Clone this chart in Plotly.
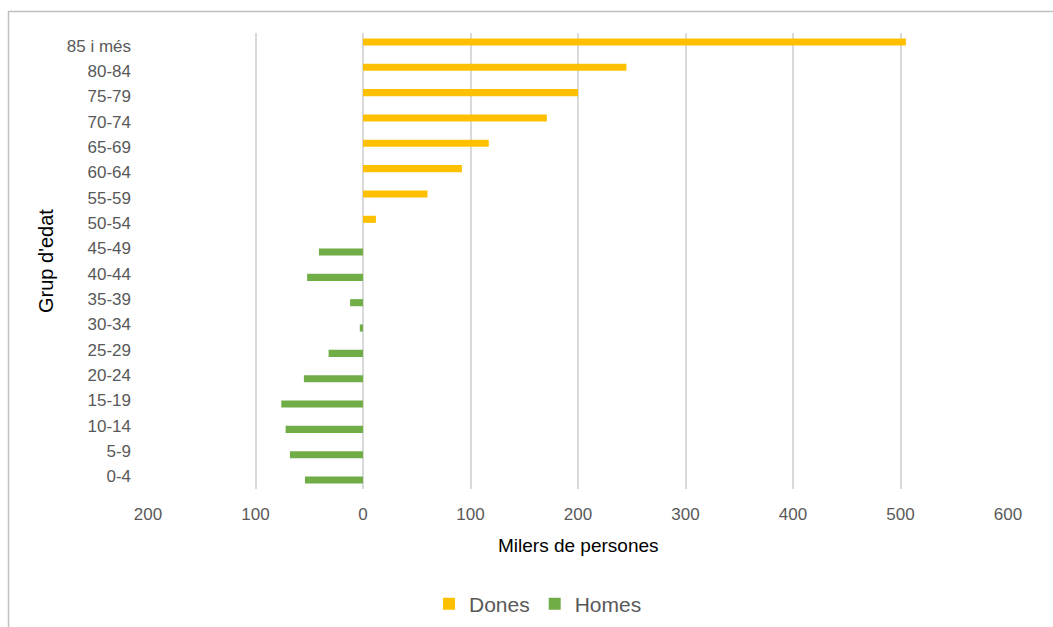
import plotly.graph_objects as go

# Age groups, bottom to top
age_groups = ["0-4", "5-9", "10-14", "15-19", "20-24", "25-29", "30-34", "35-39",
              "40-44", "45-49", "50-54", "55-59", "60-64", "65-69", "70-74",
              "75-79", "80-84", "85 i més"]

# Thousands of people (men drawn to the left as negative values)
dones = [None, None, None, None, None, None, None, None, None, None,
         12, 60, 92, 117, 171, 200, 245, 505]
homes = [-54, -68, -72, -76, -55, -32, -3, -12, -52, -41,
         None, None, None, None, None, None, None, None]

tick_vals = [-200, -100, 0, 100, 200, 300, 400, 500, 600]
tick_text = ["200", "100", "0", "100", "200", "300", "400", "500", "600"]

W, H = 1053, 627
L, R, T, B = 148, 45, 33, 138
pw, ph = W - L - R, H - T - B


def px_x(x):
    return (x - L) / pw


def px_y(y):
    return (H - B - y) / ph


FONT = "Liberation Sans, Arial, Helvetica, sans-serif"
BAR_W = 0.28

fig = go.Figure()
# Clustered layout: women's slot sits just above the category centre, men's just below
fig.add_trace(go.Bar(y=age_groups, x=dones, orientation="h", name="Dones",
                     marker=dict(color="#FFC000", line=dict(width=0)),
                     width=BAR_W, offset=0.005))
fig.add_trace(go.Bar(y=age_groups, x=homes, orientation="h", name="Homes",
                     marker=dict(color="#70AD47", line=dict(width=0)),
                     width=BAR_W, offset=-BAR_W - 0.005))

fig.update_layout(
    width=W, height=H,
    margin=dict(l=L, r=R, t=T, b=B, autoexpand=False),
    paper_bgcolor="white", plot_bgcolor="white",
    barmode="overlay",
    font=dict(family=FONT, color="#595959"),
    showlegend=True,
    legend=dict(orientation="h", x=px_x(538), y=px_y(604), xanchor="center",
                yanchor="middle", font=dict(size=21, color="#595959"),
                itemwidth=30, traceorder="normal"),
    xaxis=dict(range=[-200, 600], tickvals=tick_vals, ticktext=tick_text,
               showgrid=True, gridcolor="#d9d9d9", gridwidth=2, zeroline=False,
               showline=False, ticks="", tickfont=dict(size=17, color="#595959"),
               ticklabelstandoff=13, fixedrange=True),
    yaxis=dict(categoryorder="array", categoryarray=age_groups,
               range=[-0.5, len(age_groups) - 0.5], showgrid=False, zeroline=False,
               showline=False, ticks="", tickfont=dict(size=17, color="#595959"),
               ticklabelstandoff=16, fixedrange=True),
    annotations=[
        dict(text="Milers de persones", xref="paper", yref="paper",
             x=px_x(578), y=px_y(545), xanchor="center", yanchor="middle",
             showarrow=False, font=dict(size=19, color="#000000")),
        dict(text="Grup d'edat", xref="paper", yref="paper",
             x=px_x(46), y=px_y(261), xanchor="center", yanchor="middle",
             textangle=-90, showarrow=False, font=dict(size=20, color="#000000")),
    ],
    shapes=[
        dict(type="rect", xref="paper", yref="paper",
             x0=px_x(8.5), x1=px_x(W + 10), y0=px_y(H + 10), y1=px_y(11.5),
             line=dict(color="#bfbfbf", width=1.5), fillcolor="rgba(0,0,0,0)",
             layer="below"),
    ],
)

fig.write_html("out.html")
